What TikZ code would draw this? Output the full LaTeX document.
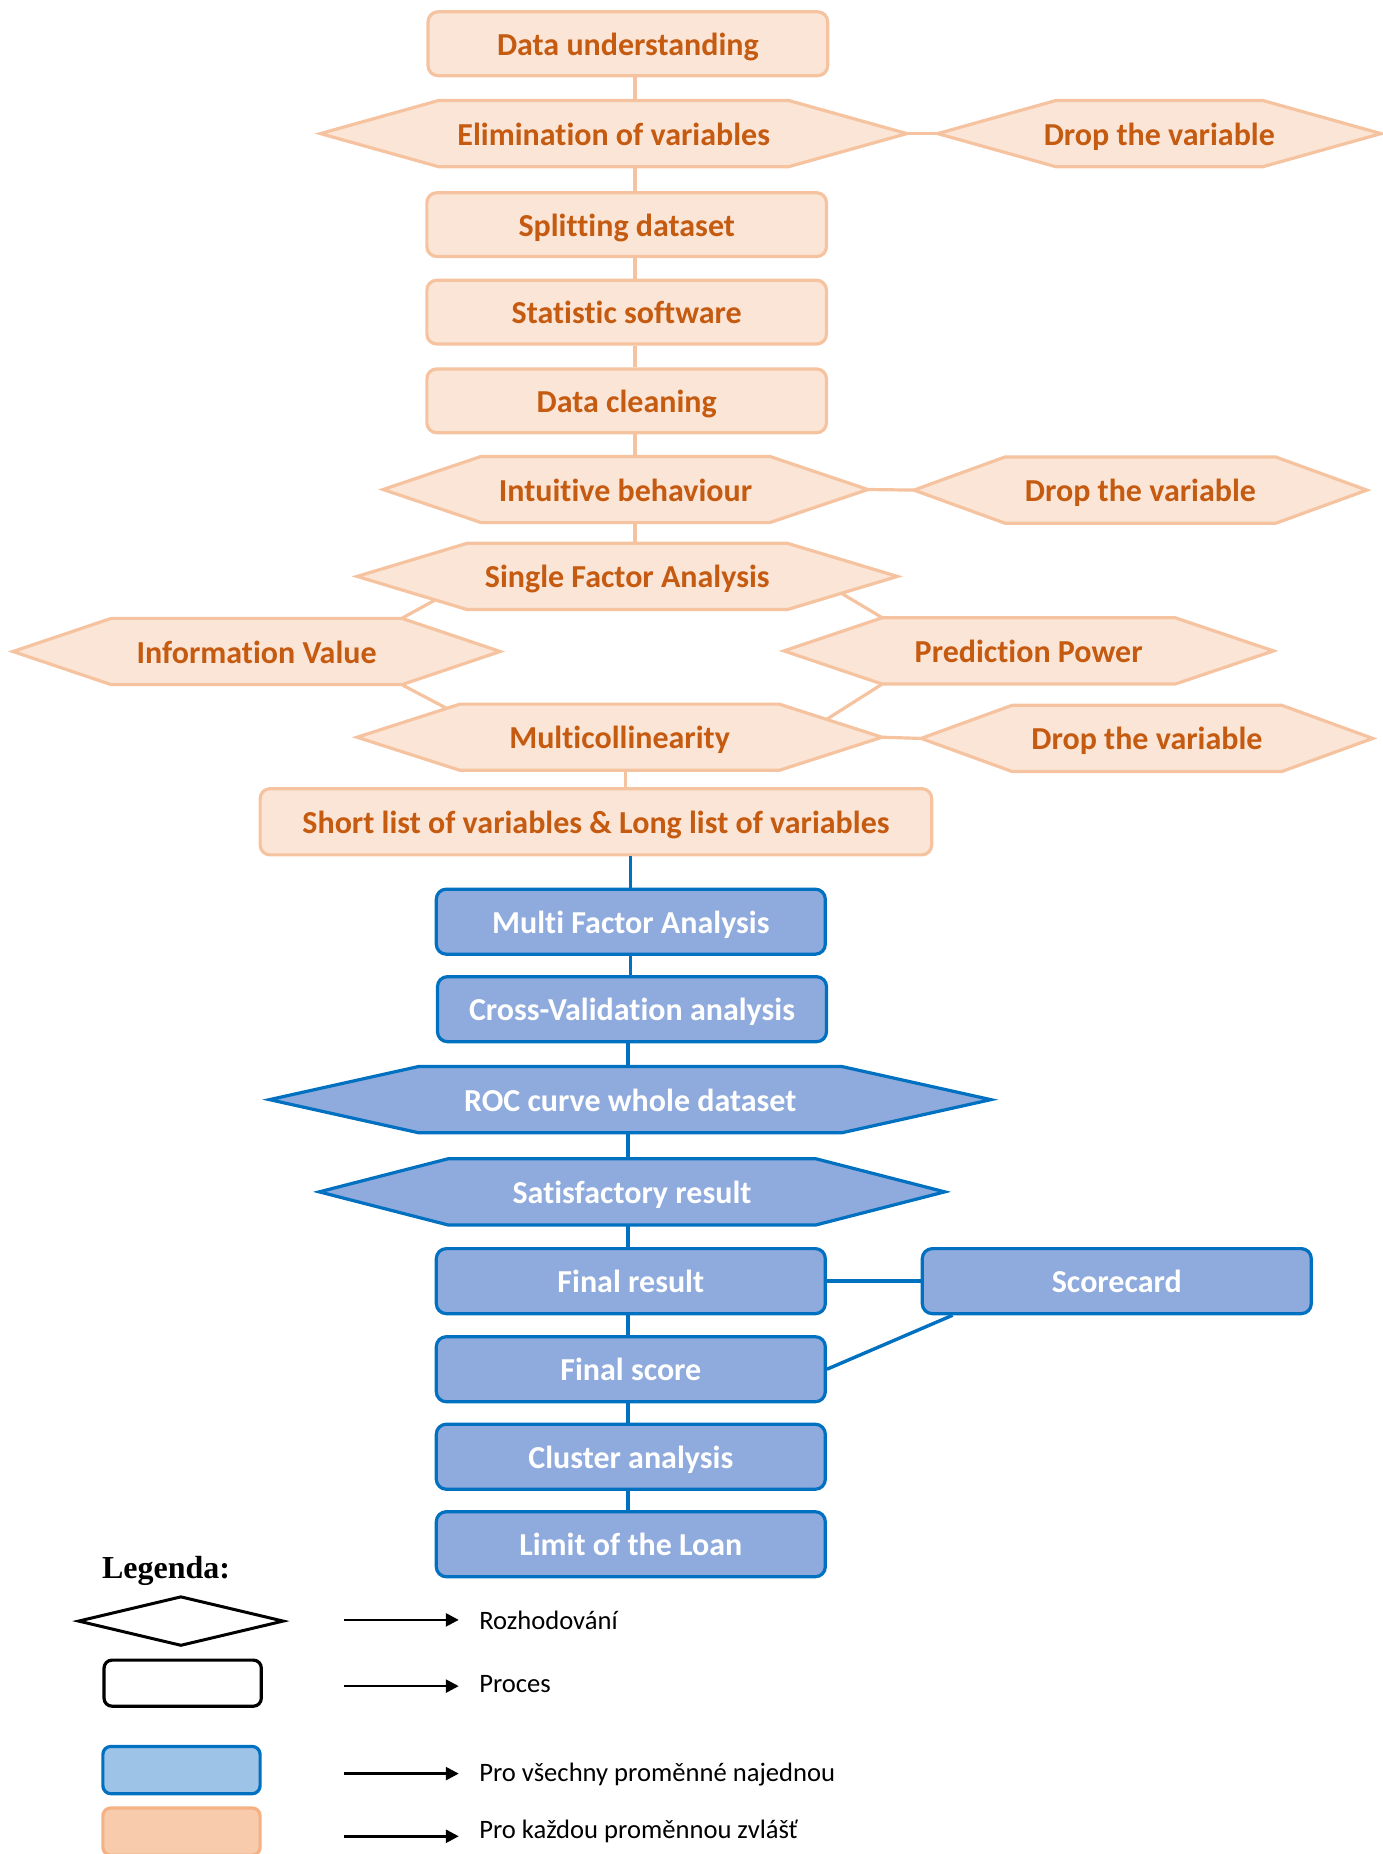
\documentclass[tikz,border=0pt]{standalone}
\usepackage{fontspec}
\setmainfont{Carlito}[Ligatures=NoCommon]
\newfontfamily\legendserif{Liberation Serif}
\usetikzlibrary{calc,arrows.meta,shapes.geometric}

\newlength\pxu
\setlength\pxu{0.5911pt}

\definecolor{peachFill}{HTML}{FBE5D6}
\definecolor{peachLine}{HTML}{F5C3A0}
\definecolor{peachInk}{HTML}{C55A11}
\definecolor{blueFill}{HTML}{8FAADC}
\definecolor{blueLine}{HTML}{0070C0}
\definecolor{legBlueFill}{HTML}{9DC3E6}
\definecolor{legPeachFill}{HTML}{F8CBAD}
\definecolor{legPeachLine}{HTML}{F4B183}

\newcommand\boxfont{\fontsize{16}{19}\selectfont\bfseries}
\newcommand\legendfont{\fontsize{13.3}{16}\selectfont}

\tikzset{
  peachshape/.style={draw=peachLine, fill=peachFill, line width=1.6pt},
  peachtext/.style={text=peachInk, font=\boxfont, inner sep=0pt,
    text height=14pt, text depth=2.5pt},
  blueshape/.style={draw=blueLine, fill=blueFill, line width=1.6pt},
  bluetext/.style={text=white, font=\boxfont, inner sep=0pt,
    text height=14pt, text depth=2.5pt},
  peachbox/.style={peachshape, peachtext, rectangle, rounded corners=5pt,
    minimum width=338*\pxu, minimum height=54*\pxu},
  bluebox/.style={blueshape, bluetext, rectangle, rounded corners=5pt,
    minimum width=329*\pxu, minimum height=55*\pxu},
  peachlink/.style={draw=peachLine, line width=1.6pt},
  bluelink/.style={draw=blueLine, line width=1.7pt},
  legarrow/.style={line width=1.3pt, -{Triangle[length=6.5pt,width=6.5pt]}},
  legtext/.style={font=\legendfont, anchor=west, inner xsep=17*\pxu, inner ysep=0pt},
}

% #1 family (peach/blue), #2 name, #3 cx, #4 cy, #5 half width, #6 tip depth, #7 text
\newcommand\hexshape[7]{%
  \path[#1shape] (#3-#5,#4) -- (#3-#5+#6,#4-28) -- (#3+#5-#6,#4-28) -- (#3+#5,#4)
    -- (#3+#5-#6,#4+28) -- (#3-#5+#6,#4+28) -- cycle;
  \node[#1text, minimum width=2*#5*\pxu, minimum height=56*\pxu] (#2) at (#3,#4) {#7};
}

\begin{document}
\begin{tikzpicture}[x=0.5911pt, y=-0.5911pt]
\useasboundingbox (0,0) rectangle (1169,1568);

% ---- per-variable steps
\node[peachbox] (du) at (531,37) {Data understanding};
\hexshape{peach}{elim}{519}{113}{248}{100}{Elimination of variables}
\hexshape{peach}{dropa}{980.5}{113}{187.5}{100}{Drop the variable}
\node[peachbox] (split) at (530,190) {Splitting dataset};
\node[peachbox] (soft) at (530,264) {Statistic software};
\node[peachbox] (clean) at (530,339) {Data cleaning};
\hexshape{peach}{intu}{529}{414}{205}{83}{Intuitive behaviour}
\hexshape{peach}{dropb}{964.5}{414.5}{191.5}{77}{Drop the variable}
\hexshape{peach}{sfa}{530.5}{487.5}{228.5}{93}{Single Factor Analysis}
\hexshape{peach}{iv}{217}{551}{206}{83}{Information Value}
\hexshape{peach}{pp}{870}{550.5}{207}{83}{Prediction Power}
\hexshape{peach}{multi}{524}{623.5}{222}{87}{Multicollinearity}
\hexshape{peach}{dropc}{970}{624.5}{191}{77}{Drop the variable}
\node[peachbox, minimum width=568*\pxu, minimum height=56*\pxu] (short) at (504,695)
  {Short list of variables \& Long list of variables};

% ---- all-variable steps
\node[bluebox] (mfa) at (533.5,779.5) {Multi Factor Analysis};
\node[bluebox] (cv) at (534.5,853.5) {Cross-Validation analysis};
\hexshape{blue}{roc}{533}{930}{305}{126}{ROC curve whole dataset}
\hexshape{blue}{sat}{534.5}{1008}{264.5}{109}{Satisfactory result}
\node[bluebox] (final) at (533.5,1083.5) {Final result};
\node[bluebox] (card) at (944.5,1083.5) {Scorecard};
\node[bluebox] (fscore) at (533.5,1158) {Final score};
\node[bluebox] (cluster) at (533.5,1232) {Cluster analysis};
\node[bluebox] (limit) at (533.5,1306) {Limit of the Loan};

% ---- connectors
\coordinate (spA) at (537,0);
\coordinate (spB) at (529,0);
\coordinate (spC) at (533,0);
\coordinate (spD) at (531,0);
\draw[peachlink] (du.south -| spA) -- (elim.north -| spA);
\draw[peachlink] (elim.south -| spA) -- (split.north -| spA);
\draw[peachlink] (split.south -| spA) -- (soft.north -| spA);
\draw[peachlink] (soft.south -| spA) -- (clean.north -| spA);
\draw[peachlink] (clean.south -| spA) -- (intu.north -| spA);
\draw[peachlink] (intu.south -| spA) -- (sfa.north -| spA);
\draw[peachlink] (elim.east) -- (dropa.west);
\draw[peachlink] (intu.east) -- (dropb.west);
\draw[peachlink] (multi.east) -- (dropc.west);
\draw[peachlink] ($(sfa.west)!0.71!([xshift=93*\pxu]sfa.south west)$) -- ([xshift=-83*\pxu]iv.north east);
\draw[peachlink] ($(sfa.east)!0.51!([xshift=-93*\pxu]sfa.south east)$) -- ([xshift=83*\pxu]pp.north west);
\draw[peachlink] ([xshift=-83*\pxu]iv.south east) -- ($(multi.west)!0.87!([xshift=87*\pxu]multi.north west)$);
\draw[peachlink] ([xshift=83*\pxu]pp.south west) -- ($(multi.east)!0.54!([xshift=-87*\pxu]multi.north east)$);
\draw[peachlink] (multi.south -| spB) -- (short.north -| spB);

\draw[bluelink] (short.south -| spC) -- (mfa.north -| spC);
\draw[bluelink] (mfa.south -| spC) -- (cv.north -| spC);
\draw[bluelink] (cv.south -| spD) -- (roc.north -| spD);
\draw[bluelink] (roc.south -| spD) -- (sat.north -| spD);
\draw[bluelink] (sat.south -| spD) -- (final.north -| spD);
\draw[bluelink] (final.south -| spD) -- (fscore.north -| spD);
\draw[bluelink] (fscore.south -| spD) -- (cluster.north -| spD);
\draw[bluelink] (cluster.south -| spD) -- (limit.north -| spD);
\draw[bluelink] (final.east) -- (card.west);
\draw[bluelink] ([xshift=27*\pxu]card.south west) -- (fscore.east);

% ---- legend
\node[font=\legendserif\bfseries\fontsize{16}{19}\selectfont, anchor=west, inner sep=0pt]
  (legtitle) at (86,1329) {Legenda:};
\node[diamond, draw=black, line width=1.5pt, minimum width=174*\pxu, minimum height=42*\pxu,
  inner sep=0pt] (legdec) at (153,1371) {};
\node[draw=black, line width=1.6pt, rounded corners=4pt, minimum width=133*\pxu,
  minimum height=39*\pxu] (legproc) at (154.5,1423.5) {};
\node[draw=blueLine, fill=legBlueFill, line width=1.6pt, rounded corners=4pt,
  minimum width=133*\pxu, minimum height=40*\pxu] (legall) at (153.5,1497) {};
\node[draw=legPeachLine, fill=legPeachFill, line width=1.6pt, rounded corners=4pt,
  minimum width=133*\pxu, minimum height=40*\pxu] (legeach) at (153.5,1549) {};

\coordinate (aa) at (291,1370);
\coordinate (ab) at (291,1426);
\coordinate (ac) at (291,1500);
\coordinate (ad) at (291,1553);
\node[legtext] (ta) at (388,1370) {Rozhodování};
\node[legtext] (tb) at (388,1424) {Proces};
\node[legtext] (tc) at (388,1501) {Pro všechny proměnné najednou};
\node[legtext] (td) at (388,1549) {Pro každou proměnnou zvlášť};
\draw[legarrow] (aa) -- (ta.west |- aa);
\draw[legarrow] (ab) -- (tb.west |- ab);
\draw[legarrow] (ac) -- (tc.west |- ac);
\draw[legarrow] (ad) -- (td.west |- ad);
\end{tikzpicture}
\end{document}
